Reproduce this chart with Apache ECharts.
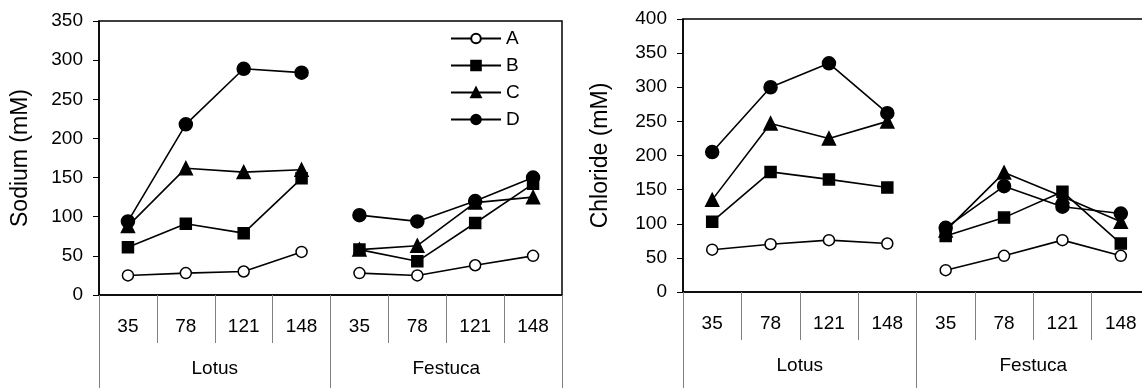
<!DOCTYPE html>
<html>
<head>
<meta charset="utf-8">
<script src="https://cdn.jsdelivr.net/npm/echarts@6/dist/echarts.min.js"></script>
<style>
html,body{margin:0;padding:0;background:#fff;}
#chart{width:1142px;height:388px;}
</style>
</head>
<body>
<div id="chart"></div>
<script>
// ---- data ----
const salinity = ['35','78','121','148','35','78','121','148'];
const species = ['Lotus','Festuca'];
const seriesNames = ['A','B','C','D'];

// Sodium (mM): Lotus 35,78,121,148 then Festuca 35,78,121,148
const sodiumA = [25, 28, 30, 55, 28, 25, 38, 50];
const sodiumB = [61, 91, 79, 149, 58, 43, 92, 142];
const sodiumC = [88, 162, 157, 160, 58, 63, 118, 125];
const sodiumD = [94, 218, 289, 284, 102, 94, 120, 150];

// Chloride (mM)
const chlorideA = [62, 70, 76, 71, 32, 53, 76, 53];
const chlorideB = [103, 176, 165, 153, 82, 109, 147, 71];
const chlorideC = [135, 247, 225, 250, 90, 175, 140, 103];
const chlorideD = [205, 300, 335, 262, 94, 155, 125, 115];

const sodiumTicks = {max: 350, interval: 50};
const chlorideTicks = {max: 400, interval: 50};

// ---- styles ----
const FONT = 'Liberation Sans, Arial, sans-serif';
const FS = 19;
const symbols = {
  A: {symbol: 'circle', size: 11, fill: '#fff'},
  B: {symbol: 'rect', size: 11, fill: '#000'},
  C: {symbol: 'triangle', size: 13, fill: '#000'},
  D: {symbol: 'circle', size: 13, fill: '#000'}
};

function split(arr, part) {
  return arr.map((v, i) => ((part === 0 ? i < 4 : i >= 4) ? v : '-'));
}

function makeSeries(name, arr, gridIdx) {
  const s = symbols[name];
  const out = [];
  [0, 1].forEach(part => {
    out.push({
      type: 'line',
      name: name,
      xAxisIndex: gridIdx * 2,
      yAxisIndex: gridIdx,
      data: split(arr, part),
      symbol: s.symbol,
      symbolSize: s.size,
      showSymbol: true,
      connectNulls: false,
      lineStyle: {color: '#000', width: 1.6},
      itemStyle: {color: s.fill, borderColor: '#000', borderWidth: 1.5},
      emphasis: {disabled: true},
      animation: false,
      z: name === 'A' ? 5 : 3
    });
  });
  return out;
}

function catAxes(gridIdx) {
  return [
    {
      type: 'category', gridIndex: gridIdx, position: 'bottom',
      data: salinity, boundaryGap: true,
      axisLine: {show: true, lineStyle: {color: '#000', width: 1.5}},
      axisTick: {show: true, interval: 0, length: 48, lineStyle: {color: '#808080', width: 1}},
      axisLabel: {interval: 0, margin: 22, color: '#000', fontSize: FS, fontFamily: FONT},
      splitLine: {show: false}
    },
    {
      type: 'category', gridIndex: gridIdx, position: 'bottom',
      data: species, boundaryGap: true,
      axisLine: {show: false},
      axisTick: {show: true, interval: 0, length: 100, lineStyle: {color: '#808080', width: 1}},
      axisLabel: {interval: 0, margin: 64, color: '#000', fontSize: FS, fontFamily: FONT},
      splitLine: {show: false}
    }
  ];
}

function valAxis(gridIdx, ticks, name, gap) {
  return {
    type: 'value', gridIndex: gridIdx, min: 0, max: ticks.max, interval: ticks.interval,
    name: name, nameLocation: 'middle', nameGap: gap, nameRotate: 90,
    nameTextStyle: {color: '#000', fontSize: 23, fontFamily: FONT},
    axisLine: {show: true, lineStyle: {color: '#000', width: 1.5}},
    axisTick: {show: true, length: 6, lineStyle: {color: '#000', width: 1}},
    axisLabel: {margin: 16, color: '#000', fontSize: FS, fontFamily: FONT},
    splitLine: {show: false}
  };
}

const series = [].concat(
  makeSeries('A', sodiumA, 0), makeSeries('B', sodiumB, 0),
  makeSeries('C', sodiumC, 0), makeSeries('D', sodiumD, 0),
  makeSeries('A', chlorideA, 1), makeSeries('B', chlorideB, 1),
  makeSeries('C', chlorideC, 1), makeSeries('D', chlorideD, 1)
);

const chart = echarts.init(document.getElementById('chart'), null, {renderer: 'canvas'});
chart.setOption({
  animation: false,
  backgroundColor: '#fff',
  textStyle: {fontFamily: FONT},
  grid: [
    {left: 99, top: 21, width: 463, height: 274, outerBoundsMode: 'none', containLabel: false,
     show: true, borderColor: '#000', borderWidth: 1.5, backgroundColor: 'transparent'},
    {left: 683, top: 19, width: 467, height: 273, outerBoundsMode: 'none', containLabel: false,
     show: true, borderColor: '#000', borderWidth: 1.5, backgroundColor: 'transparent'}
  ],
  legend: {
    data: seriesNames,
    orient: 'vertical',
    left: 445, top: 24,
    itemWidth: 50, itemHeight: 12, itemGap: 8,
    textStyle: {color: '#000', fontSize: FS, fontFamily: FONT},
    selectedMode: false
  },
  xAxis: catAxes(0).concat(catAxes(1)),
  yAxis: [
    valAxis(0, sodiumTicks, 'Sodium (mM)', 67),
    valAxis(1, chlorideTicks, 'Chloride (mM)', 71)
  ],
  series: series
});
</script>
</body>
</html>
